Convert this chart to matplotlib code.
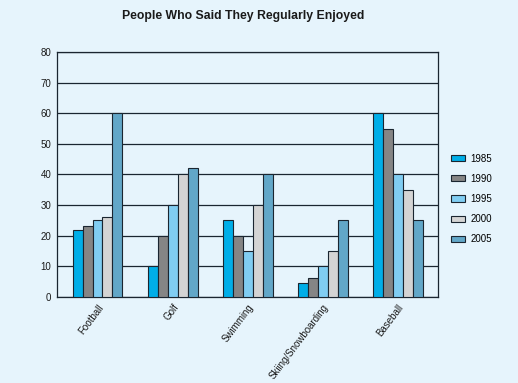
import numpy as np
import matplotlib
matplotlib.use("Agg")
import matplotlib.pyplot as plt

# ------------------------------------------------------
# Dados
# ------------------------------------------------------
esportes = ["Football", "Golf", "Swimming", "Skiing/Snowboarding", "Baseball"]
anos = ["1985", "1990", "1995", "2000", "2005"]
v1985 = [22, 10, 25, 4.5, 60]
v1990 = [23, 20, 20, 6, 55]
v1995 = [25, 30, 15, 10, 40]
v2000 = [26, 40, 30, 15, 35]
v2005 = [60, 42, 40, 25, 25]
series = [v1985, v1990, v1995, v2000, v2005]
cores = ["#00aee8", "#858585", "#80cdf2", "#d4d4d4", "#62a7c8"]

fundo = "#e6f4fc"
borda = "#1a2530"

plt.rcParams["font.family"] = ["Liberation Sans", "DejaVu Sans"]

fig = plt.figure(figsize=(5.18, 3.83), dpi=100, facecolor=fundo)
ax = fig.add_axes([0.110, 0.225, 0.736, 0.639])
ax.set_facecolor(fundo)

x = np.arange(len(esportes))
largura = 0.133
for i, (vals, cor, ano) in enumerate(zip(series, cores, anos)):
    ax.bar(x + (i - 2) * largura, vals, width=largura, color=cor,
           edgecolor=borda, linewidth=0.8, label=ano, zorder=3)

ax.set_xlim(-0.54, 4.54)
ax.set_ylim(0, 80)
ax.set_yticks(range(0, 81, 10))
ax.yaxis.grid(True, color=borda, linewidth=0.9, zorder=1)
ax.tick_params(axis="both", length=0, labelsize=7, colors="#1a1a1a", pad=4)
ax.set_xticks(x)
ax.set_xticklabels(esportes, rotation=53, ha="right", rotation_mode="anchor")
for s in ax.spines.values():
    s.set_color(borda)
    s.set_linewidth(0.9)

fig.text(0.47, 0.958, "People Who Said They Regularly Enjoyed",
         ha="center", va="center", fontsize=8.8, fontweight="bold", color="#1a1a1a")

ax.legend(loc="center left", bbox_to_anchor=(1.01, 0.40), frameon=False,
          fontsize=7, handlelength=1.5, handleheight=0.6, labelspacing=1.05,
          handletextpad=0.5)

fig.savefig("out.png", dpi=100, facecolor=fundo)
